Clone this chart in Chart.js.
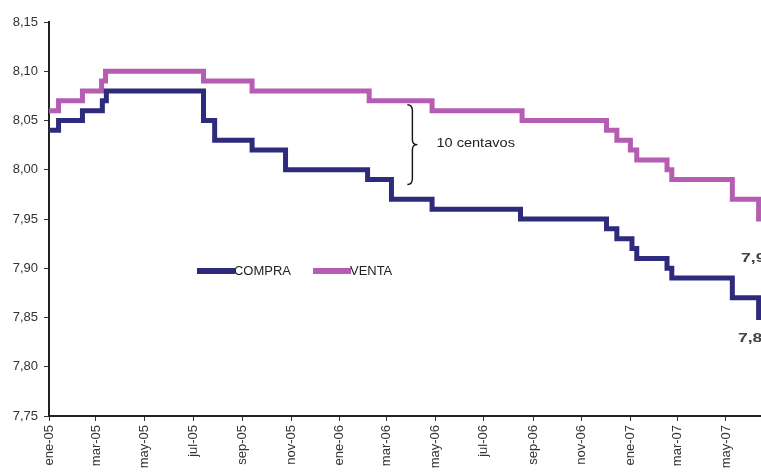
<!DOCTYPE html>
<html>
<head>
<meta charset="utf-8">
<script src="https://cdn.jsdelivr.net/npm/chart.js@4.4.1/dist/chart.umd.min.js"></script>
<style>
  body { margin: 0; background: #fff; overflow: hidden; }
  #wrap { width: 761px; height: 475px; position: relative; }
</style>
</head>
<body>
<div id="wrap"><canvas id="tcChart"></canvas></div>
<script>
// Tipo de cambio: fechas de cada cambio y valor vigente desde esa fecha
const compraDates = ['2005-01-01', '2005-01-13', '2005-02-12', '2005-03-09', '2005-03-14',
    '2005-07-14', '2005-07-28', '2005-09-13', '2005-10-25', '2006-02-05', '2006-03-07',
    '2006-04-27', '2006-08-16', '2006-12-02', '2006-12-15', '2007-01-03', '2007-01-09',
    '2007-02-16', '2007-02-22', '2007-05-09', '2007-06-11'];
const compraValues = [8.04, 8.05, 8.06, 8.07, 8.08,
    8.05, 8.03, 8.02, 8.00, 7.99, 7.97,
    7.96, 7.95, 7.94, 7.93, 7.92, 7.91,
    7.90, 7.89, 7.87, 7.85];

const ventaDates = ['2005-01-01', '2005-01-13', '2005-02-12', '2005-03-08', '2005-03-13',
    '2005-07-14', '2005-09-13', '2006-02-07', '2006-04-27', '2006-08-18',
    '2006-12-02', '2006-12-15', '2007-01-01', '2007-01-09',
    '2007-02-16', '2007-02-22', '2007-05-09', '2007-06-11'];
const ventaValues = [8.06, 8.07, 8.08, 8.09, 8.10,
    8.09, 8.08, 8.07, 8.06, 8.05,
    8.04, 8.03, 8.02, 8.01,
    8.00, 7.99, 7.97, 7.95];

const startDate = '2005-01-01';
const endDate = '2007-06-14';

const tickDates = ['2005-01-01', '2005-03-01', '2005-05-01', '2005-07-01', '2005-09-01',
    '2005-11-01', '2006-01-01', '2006-03-01', '2006-05-01', '2006-07-01', '2006-09-01',
    '2006-11-01', '2007-01-01', '2007-03-01', '2007-05-01'];
const tickLabels = ['ene-05', 'mar-05', 'may-05', 'jul-05', 'sep-05', 'nov-05', 'ene-06',
    'mar-06', 'may-06', 'jul-06', 'sep-06', 'nov-06', 'ene-07', 'mar-07', 'may-07'];

const endLabels = ['7,85', '7,95'];

// dias desde el inicio de la serie
function dayOf(s) {
    const p = s.split('-').map(Number);
    const base = startDate.split('-').map(Number);
    return (Date.UTC(p[0], p[1] - 1, p[2]) - Date.UTC(base[0], base[1] - 1, base[2])) / 86400000;
}

function buildPoints(dates, values) {
    const pts = dates.map((d, i) => ({ x: dayOf(d), y: values[i] }));
    pts.push({ x: dayOf(endDate), y: values[values.length - 1] });
    return pts;
}

const fmt = v => Number(v).toFixed(2).replace('.', ',');
const FONT = '"Liberation Sans", Arial, sans-serif';

// texto estirado en horizontal
function stretchText(ctx, text, x, y, sx) {
    ctx.save();
    ctx.translate(x, y);
    ctx.scale(sx, 1);
    ctx.fillText(text, 0, 0);
    ctx.restore();
}

// Anotaciones: llave, leyenda y etiquetas finales
const extrasPlugin = {
    id: 'extras',
    afterDatasetsDraw(chart) {
        const ctx = chart.ctx;
        const xs = chart.scales.x;
        const ys = chart.scales.y;
        ctx.save();

        // llave "}" de 10 centavos
        const bx = xs.getPixelForValue(dayOf('2006-03-27'));
        const top = ys.getPixelForValue(8.066);
        const bot = ys.getPixelForValue(7.985);
        const mid = (top + bot) / 2;
        ctx.strokeStyle = '#111';
        ctx.lineWidth = 1.4;
        ctx.beginPath();
        ctx.moveTo(bx, top);
        ctx.quadraticCurveTo(bx + 5, top, bx + 5, top + 6);
        ctx.lineTo(bx + 5, mid - 5);
        ctx.quadraticCurveTo(bx + 5, mid, bx + 10, mid);
        ctx.quadraticCurveTo(bx + 5, mid, bx + 5, mid + 5);
        ctx.lineTo(bx + 5, bot - 6);
        ctx.quadraticCurveTo(bx + 5, bot, bx, bot);
        ctx.stroke();

        ctx.fillStyle = '#222';
        ctx.font = '13px ' + FONT;
        ctx.textAlign = 'left';
        ctx.textBaseline = 'middle';
        stretchText(ctx, '10 centavos', bx + 29, mid - 1, 1.12);

        // leyenda dentro del area
        let lx = 197;
        const ly = 271;
        chart.data.datasets.forEach(ds => {
            ctx.fillStyle = ds.borderColor;
            ctx.fillRect(lx, ly - 3, 38, 6);
            ctx.fillStyle = '#222';
            ctx.font = '12px ' + FONT;
            stretchText(ctx, ds.label, lx + 37, ly + 1, 1.08);
            lx += 116;
        });

        // etiquetas de valor final (cortadas en el borde)
        ctx.fillStyle = '#444';
        ctx.font = 'bold 13px ' + FONT;
        stretchText(ctx, endLabels[1], xs.getPixelForValue(dayOf('2007-05-20')), ys.getPixelForValue(7.91), 1.35);
        stretchText(ctx, endLabels[0], xs.getPixelForValue(dayOf('2007-05-16')), ys.getPixelForValue(7.829), 1.35);
        ctx.restore();
    }
};

function renderChart() {
    const canvas = document.getElementById('tcChart');
    const ctx = canvas.getContext('2d');

    new Chart(ctx, {
        type: 'line',
        data: {
            datasets: [{
                label: 'COMPRA',
                data: buildPoints(compraDates, compraValues),
                borderColor: '#2e2b7c',
                borderWidth: 5,
                stepped: 'before',
                pointRadius: 0,
                borderJoinStyle: 'miter',
                fill: false
            }, {
                label: 'VENTA',
                data: buildPoints(ventaDates, ventaValues),
                borderColor: '#b65cb2',
                borderWidth: 5,
                stepped: 'before',
                pointRadius: 0,
                borderJoinStyle: 'miter',
                fill: false
            }]
        },
        options: {
            responsive: true,
            maintainAspectRatio: false,
            animation: false,
            layout: { padding: { top: 22, right: 0, left: 0, bottom: 0 } },
            plugins: {
                legend: { display: false },
                tooltip: { enabled: false }
            },
            scales: {
                x: {
                    type: 'linear',
                    min: 0,
                    max: dayOf(endDate),
                    afterBuildTicks: scale => {
                        scale.ticks = tickDates.map(d => ({ value: dayOf(d) }));
                    },
                    afterFit: scale => { scale.height = 59; },
                    grid: { drawOnChartArea: false, tickLength: 5, color: '#333', lineWidth: 1 },
                    border: { display: true, color: '#222', width: 2 },
                    ticks: {
                        autoSkip: false,
                        minRotation: 90,
                        maxRotation: 90,
                        padding: 4,
                        color: '#333',
                        font: { family: FONT, size: 13 },
                        callback: (value, index) => tickLabels[index]
                    }
                },
                y: {
                    min: 7.75,
                    max: 8.15,
                    afterFit: scale => { scale.width = 49; },
                    grid: { drawOnChartArea: false, tickLength: 5, color: '#333', lineWidth: 1 },
                    border: { display: true, color: '#222', width: 2 },
                    ticks: {
                        stepSize: 0.05,
                        padding: 6,
                        color: '#333',
                        font: { family: FONT, size: 13 },
                        callback: value => fmt(value)
                    }
                }
            }
        },
        plugins: [extrasPlugin]
    });
}

renderChart();
</script>
</body>
</html>
